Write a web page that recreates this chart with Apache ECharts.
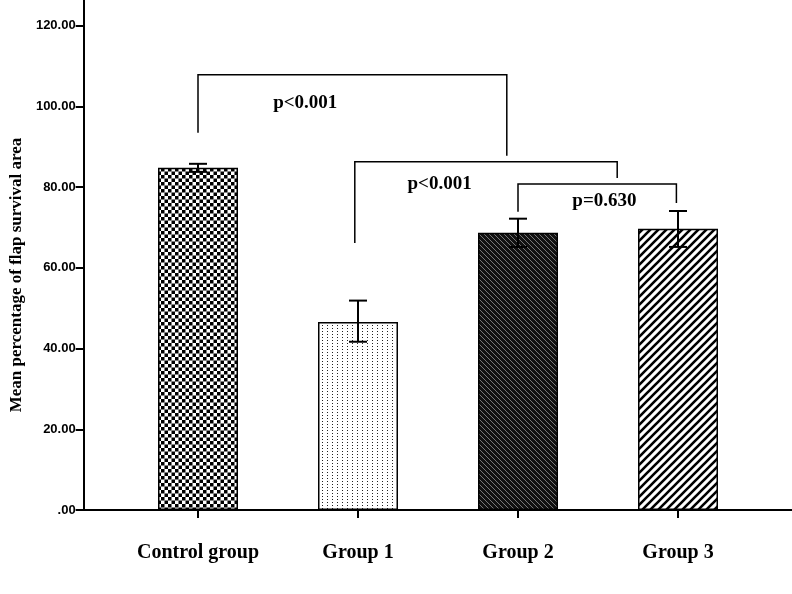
<!DOCTYPE html>
<html>
<head>
<meta charset="utf-8">
<script src="https://cdn.jsdelivr.net/npm/echarts@6/dist/echarts.min.js"></script>
<style>
html,body{margin:0;padding:0;background:#fff;}
#chart{width:792px;height:594px;}
</style>
</head>
<body>
<div id="chart"></div>
<script>
// ---- data ----
const categories = ['Control group', 'Group 1', 'Group 2', 'Group 3'];
const means = [84.8, 46.6, 68.7, 69.7];
const errLow = [83.8, 41.7, 65.2, 65.2];
const errHigh = [85.8, 51.9, 72.2, 74.1];
const yTicks = [0, 20, 40, 60, 80, 100, 120];
const yMax = 126.4;
// significance brackets (x in category units, bar i centred at i+0.5)
const bracketX1 = [0.5, 1.48, 2.5];
const bracketX2 = [2.43, 3.12, 3.49];
const bracketTop = [107.9, 86.3, 80.8];
const bracketLeftEnd = [93.5, 66.2, 73.9];
const bracketRightEnd = [87.8, 82.3, 76.1];
const pTexts = ['p<0.001', 'p<0.001', 'p=0.630'];
const pTextX = [1.17, 2.01, 3.04];
const pTextY = [100.9, 80.8, 76.6];

// ---- patterns ----
function mk(w, h, draw) {
  const c = document.createElement('canvas');
  c.width = w; c.height = h;
  const ctx = c.getContext('2d');
  draw(ctx, w, h);
  return { image: c, repeat: 'repeat' };
}
const checker = mk(7, 7, (ctx) => {
  ctx.fillStyle = '#fff'; ctx.fillRect(0, 0, 7, 7);
  ctx.fillStyle = '#000'; ctx.fillRect(0, 0, 3.5, 3.5); ctx.fillRect(3.5, 3.5, 3.5, 3.5);
});
const dots = mk(5, 3, (ctx) => {
  ctx.fillStyle = '#fff'; ctx.fillRect(0, 0, 5, 3);
  ctx.fillStyle = '#222'; ctx.fillRect(2, 1, 1, 1);
});
const darkHatch = mk(5, 5, (ctx) => {
  ctx.fillStyle = '#111'; ctx.fillRect(0, 0, 5, 5);
  ctx.strokeStyle = '#777'; ctx.lineWidth = 1;
  ctx.beginPath();
  ctx.moveTo(-1, -1); ctx.lineTo(6, 6);
  ctx.moveTo(-1, 4); ctx.lineTo(1, 6);
  ctx.moveTo(4, -1); ctx.lineTo(6, 1);
  ctx.stroke();
});
const stripe = mk(8, 8, (ctx) => {
  ctx.fillStyle = '#fff'; ctx.fillRect(0, 0, 8, 8);
  ctx.strokeStyle = '#000'; ctx.lineWidth = 2.6;
  ctx.beginPath();
  ctx.moveTo(-1, 9); ctx.lineTo(9, -1);
  ctx.moveTo(-2, 2); ctx.lineTo(2, -2);
  ctx.moveTo(6, 10); ctx.lineTo(10, 6);
  ctx.stroke();
});
const patterns = [checker, dots, darkHatch, stripe];

const serifBold = { fontFamily: 'Liberation Serif', fontWeight: 'bold', color: '#000' };

const chart = echarts.init(document.getElementById('chart'), null, { renderer: 'canvas' });
chart.setOption({
  animation: false,
  backgroundColor: '#fff',
  grid: [
    { left: 83, right: 0, top: 0, bottom: 84 },
    { left: 118, width: 640, top: 0, bottom: 84 }
  ],
  xAxis: [
    { gridIndex: 0, type: 'value', min: 0, max: 1,
      axisLine: { show: true, onZero: false, lineStyle: { color: '#000', width: 2 } },
      axisTick: { show: false }, axisLabel: { show: false }, splitLine: { show: false } },
    { gridIndex: 1, type: 'category', data: categories,
      axisLine: { show: false },
      axisTick: { show: true, alignWithLabel: true, length: 8, lineStyle: { color: '#000', width: 2 } },
      axisLabel: Object.assign({ margin: 33, fontSize: 20 }, serifBold),
      splitLine: { show: false } },
    { gridIndex: 1, type: 'value', min: 0, max: 4, show: false }
  ],
  yAxis: [
    { gridIndex: 0, type: 'value', min: 0, max: yMax,
      axisLine: { show: true, onZero: false, lineStyle: { color: '#000', width: 2 } },
      axisTick: { show: true, length: 8, customValues: yTicks, lineStyle: { color: '#000', width: 2 } },
      axisLabel: { customValues: yTicks, margin: 8, fontSize: 13, fontWeight: 'bold',
        fontFamily: 'Liberation Sans', color: '#000',
        formatter: v => v === 0 ? '.00' : v.toFixed(2) },
      splitLine: { show: false },
      name: 'Mean percentage of flap survival area', nameLocation: 'middle', nameGap: 56,
      nameTextStyle: Object.assign({ fontSize: 17, padding: [0, 40, 0, 0] }, serifBold) },
    { gridIndex: 1, type: 'value', min: 0, max: yMax, show: false }
  ],
  series: [
    { type: 'bar', xAxisIndex: 1, yAxisIndex: 1, barWidth: 80,
      data: means.map((v, i) => ({ value: v,
        itemStyle: { color: patterns[i], borderColor: '#000', borderWidth: 1.5 } })) },
    { type: 'custom', xAxisIndex: 1, yAxisIndex: 1, z: 5,
      data: categories.map((c, i) => [i, errLow[i], errHigh[i]]),
      renderItem: (params, api) => {
        const lo = api.coord([api.value(0), api.value(1)]);
        const hi = api.coord([api.value(0), api.value(2)]);
        const hw = 9;
        const st = { stroke: '#000', lineWidth: 2 };
        return { type: 'group', children: [
          { type: 'line', shape: { x1: hi[0], y1: hi[1], x2: lo[0], y2: lo[1] }, style: st },
          { type: 'line', shape: { x1: hi[0] - hw, y1: hi[1], x2: hi[0] + hw, y2: hi[1] }, style: st },
          { type: 'line', shape: { x1: lo[0] - hw, y1: lo[1], x2: lo[0] + hw, y2: lo[1] }, style: st }
        ] };
      } },
    { type: 'custom', xAxisIndex: 2, yAxisIndex: 1, z: 6,
      data: bracketX1.map((x, i) => [x, bracketX2[i], bracketTop[i], bracketLeftEnd[i], bracketRightEnd[i]]),
      renderItem: (params, api) => {
        const a = api.coord([api.value(0), api.value(3)]);
        const b = api.coord([api.value(0), api.value(2)]);
        const c = api.coord([api.value(1), api.value(2)]);
        const d = api.coord([api.value(1), api.value(4)]);
        return { type: 'polyline', shape: { points: [a, b, c, d] },
          style: { stroke: '#000', lineWidth: 1.5, fill: null } };
      } },
    { type: 'custom', xAxisIndex: 2, yAxisIndex: 1, z: 7,
      data: pTexts.map((t, i) => [pTextX[i], pTextY[i], t]),
      renderItem: (params, api) => {
        const p = api.coord([api.value(0), api.value(1)]);
        return { type: 'text', x: p[0], y: p[1],
          style: { text: pTexts[params.dataIndex], fontSize: 19, fontWeight: 'bold',
            fontFamily: 'Liberation Serif', fill: '#000', align: 'center', verticalAlign: 'middle' } };
      } }
  ]
});
</script>
</body>
</html>
